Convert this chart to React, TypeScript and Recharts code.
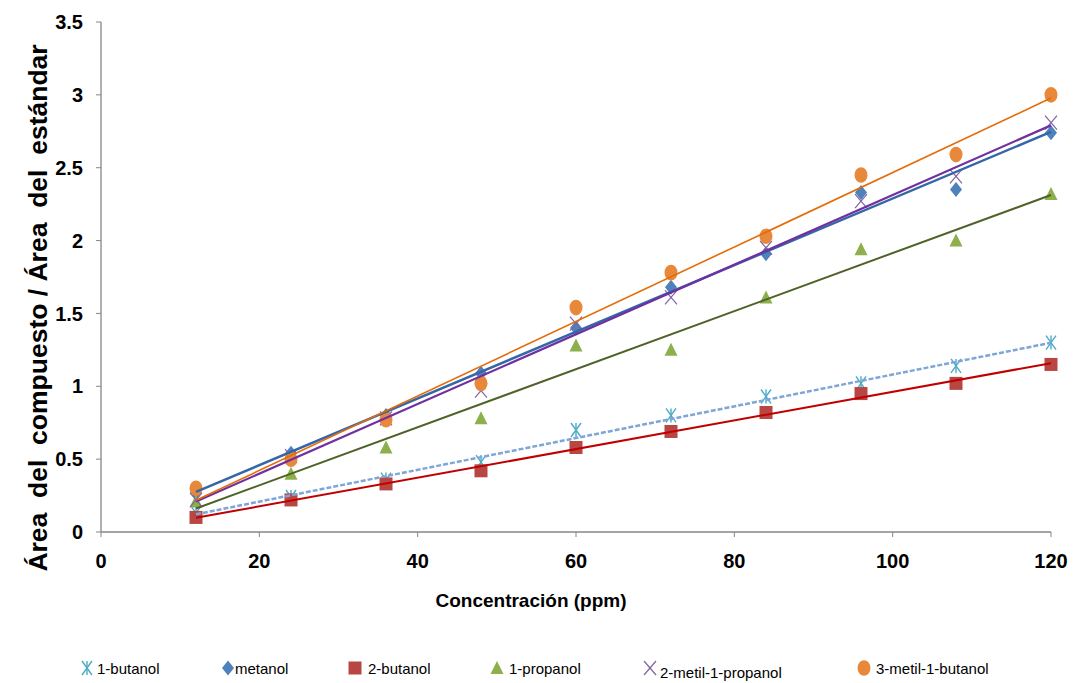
import React from "react";
import { ScatterChart, Scatter, XAxis, YAxis } from "recharts";

const concentrations = [12, 24, 36, 48, 60, 72, 84, 96, 108, 120];
const butanol1 = [0.13, 0.24, 0.36, 0.48, 0.7, 0.8, 0.93, 1.02, 1.14, 1.3];
const metanol = [0.27, 0.54, 0.8, 1.09, 1.4, 1.68, 1.91, 2.33, 2.35, 2.74];
const butanol2 = [0.1, 0.22, 0.33, 0.42, 0.58, 0.69, 0.82, 0.95, 1.02, 1.15];
const propanol1 = [0.21, 0.4, 0.58, 0.78, 1.28, 1.25, 1.61, 1.94, 2.0, 2.32];
const metilPropanol = [0.22, 0.52, 0.78, 0.97, 1.43, 1.61, 1.95, 2.27, 2.44, 2.81];
const metilButanol = [0.3, 0.5, 0.77, 1.02, 1.54, 1.78, 2.03, 2.45, 2.59, 3.0];

const xTicks = [0, 20, 40, 60, 80, 100, 120];
const yTicks = [0, 0.5, 1, 1.5, 2, 2.5, 3, 3.5];

const seriesNames = ["1-butanol", "metanol", "2-butanol", "1-propanol", "2-metil-1-propanol", "3-metil-1-butanol"];

const toPoints = (ys: number[]) => concentrations.map((x, i) => ({ x, y: ys[i] }));

// least-squares trend line (like the spreadsheet's linear trendline)
const trend = (ys: number[]) => {
  const n = concentrations.length;
  const mx = concentrations.reduce((a, b) => a + b, 0) / n;
  const my = ys.reduce((a, b) => a + b, 0) / n;
  let sxy = 0;
  let sxx = 0;
  concentrations.forEach((x, i) => {
    sxy += (x - mx) * (ys[i] - my);
    sxx += (x - mx) * (x - mx);
  });
  const b = sxy / sxx;
  const a = my - b * mx;
  const x0 = concentrations[0];
  const x1 = concentrations[n - 1];
  return [
    { x: x0, y: a + b * x0 },
    { x: x1, y: a + b * x1 },
  ];
};

const C = {
  asterisk: "#4BACC6",
  diamond: "#4F81BD",
  square: "#B84643",
  triangle: "#8DB04C",
  cross: "#8064A2",
  circle: "#E8883A",
};

const Asterisk = ({ cx, cy }: any) => (
  <g stroke={C.asterisk} strokeWidth={1.4} fill="none">
    <line x1={cx - 5} y1={cy - 7} x2={cx + 5} y2={cy + 7} />
    <line x1={cx + 5} y1={cy - 7} x2={cx - 5} y2={cy + 7} />
    <line x1={cx} y1={cy - 7} x2={cx} y2={cy + 7} />
  </g>
);
const Diamond = ({ cx, cy }: any) => (
  <path d={`M${cx},${cy - 7.5} L${cx + 6},${cy} L${cx},${cy + 7.5} L${cx - 6},${cy} Z`} fill={C.diamond} />
);
const Square = ({ cx, cy }: any) => <rect x={cx - 6.5} y={cy - 6.5} width={13} height={13} fill={C.square} />;
const Triangle = ({ cx, cy }: any) => (
  <path d={`M${cx},${cy - 7} L${cx + 6.5},${cy + 6} L${cx - 6.5},${cy + 6} Z`} fill={C.triangle} />
);
const Cross = ({ cx, cy }: any) => (
  <g stroke={C.cross} strokeWidth={1.2} fill="none">
    <line x1={cx - 6} y1={cy - 7} x2={cx + 6} y2={cy + 7} />
    <line x1={cx + 6} y1={cy - 7} x2={cx - 6} y2={cy + 7} />
  </g>
);
const Circle = ({ cx, cy }: any) => <ellipse cx={cx} cy={cy} rx={6.5} ry={7.8} fill={C.circle} />;
const NoShape = () => <g />;

const markerSeries = [
  { name: seriesNames[0], data: butanol1, shape: Asterisk },
  { name: seriesNames[1], data: metanol, shape: Diamond },
  { name: seriesNames[2], data: butanol2, shape: Square },
  { name: seriesNames[3], data: propanol1, shape: Triangle },
  { name: seriesNames[4], data: metilPropanol, shape: Cross },
  { name: seriesNames[5], data: metilButanol, shape: Circle },
];

const trendSeries = [
  { data: butanol1, stroke: "#7FA6D6", width: 2.5, dash: "5 2" },
  { data: metanol, stroke: "#3566A8", width: 2.5, dash: undefined },
  { data: butanol2, stroke: "#C00000", width: 2, dash: undefined },
  { data: propanol1, stroke: "#4F6228", width: 2, dash: undefined },
  { data: metilPropanol, stroke: "#7030A0", width: 2.2, dash: undefined },
  { data: metilButanol, stroke: "#E36C0A", width: 1.6, dash: undefined },
];

const legendItems = [
  { name: seriesNames[0], shape: Asterisk, mx: 87, tx: 97, ty: 0 },
  { name: seriesNames[1], shape: Diamond, mx: 228, tx: 235, ty: 0 },
  { name: seriesNames[2], shape: Square, mx: 355, tx: 368, ty: 0 },
  { name: seriesNames[3], shape: Triangle, mx: 497, tx: 509, ty: 0 },
  { name: seriesNames[4], shape: Cross, mx: 650, tx: 660, ty: 4 },
  { name: seriesNames[5], shape: Circle, mx: 864, tx: 876, ty: 0 },
];

const sans = "'Liberation Sans', Arial, sans-serif";
const axisGray = "#868686";

export default function App() {
  return (
    <div style={{ position: "absolute", left: 0, top: 0, width: 1073, height: 683, background: "#fff" }}>
      <ScatterChart width={1073} height={683} margin={{ top: 22, right: 22, bottom: 61, left: 0 }}>
        <XAxis
          type="number"
          dataKey="x"
          domain={[0, 120]}
          ticks={xTicks}
          height={90}
          axisLine={{ stroke: axisGray, strokeWidth: 1.3 }}
          tickLine={{ stroke: axisGray }}
          tickSize={5}
          tickMargin={17}
          tick={{ fill: "#000", fontSize: 20, fontWeight: 700, fontFamily: sans }}
        />
        <YAxis
          type="number"
          dataKey="y"
          domain={[0, 3.5]}
          ticks={yTicks}
          width={101}
          axisLine={{ stroke: axisGray, strokeWidth: 1.3 }}
          tickLine={{ stroke: axisGray }}
          tickSize={5}
          tickMargin={13}
          tick={{ fill: "#000", fontSize: 20, fontWeight: 700, fontFamily: sans }}
        />
        {markerSeries.map((s) => (
          <Scatter
            key={s.name}
            name={s.name}
            data={toPoints(s.data)}
            shape={s.shape}
            isAnimationActive={false}
          />
        ))}
        {trendSeries.map((t, i) => (
          <Scatter
            key={"trend" + i}
            data={trend(t.data)}
            shape={NoShape}
            line={{ stroke: t.stroke, strokeWidth: t.width, strokeDasharray: t.dash }}
            lineType="joint"
            legendType="none"
            isAnimationActive={false}
          />
        ))}
      </ScatterChart>
      <div
        style={{
          position: "absolute",
          left: 531,
          top: 601,
          transform: "translate(-50%, -50%)",
          fontFamily: sans,
          fontWeight: 700,
          fontSize: 19,
          whiteSpace: "nowrap",
          color: "#000",
        }}
      >
        Concentración (ppm)
      </div>
      <div
        style={{
          position: "absolute",
          left: 38,
          top: 308,
          transform: "translate(-50%, -50%) rotate(-90deg)",
          fontFamily: sans,
          fontWeight: 700,
          fontSize: 26.5,
          whiteSpace: "pre",
          color: "#000",
        }}
      >
        {"Área  del  compuesto / Área  del  estándar"}
      </div>
      {legendItems.map((it) => {
        const Shape = it.shape;
        return (
          <React.Fragment key={it.name}>
            <svg style={{ position: "absolute", left: it.mx - 9, top: 659 }} width={18} height={18}>
              <Shape cx={9} cy={9} />
            </svg>
            <div
              style={{
                position: "absolute",
                left: it.tx,
                top: 668 + it.ty,
                transform: "translateY(-50%)",
                fontFamily: sans,
                fontSize: 15,
                whiteSpace: "nowrap",
                color: "#000",
              }}
            >
              {it.name}
            </div>
          </React.Fragment>
        );
      })}
    </div>
  );
}
